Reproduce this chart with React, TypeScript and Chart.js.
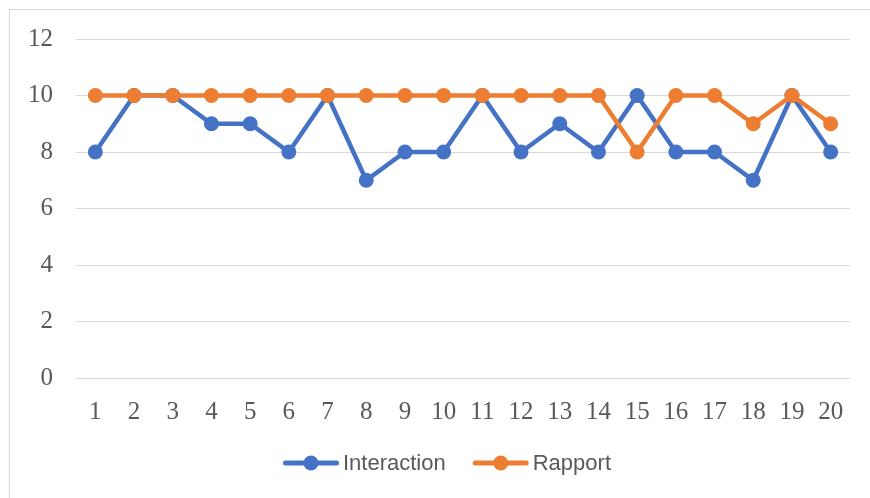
import { useEffect, useRef } from "react";
import { Chart, registerables } from "chart.js";

Chart.register(...registerables);

const categories = ["1", "2", "3", "4", "5", "6", "7", "8", "9", "10", "11", "12", "13", "14", "15", "16", "17", "18", "19", "20"];
const interaction = [8, 10, 10, 9, 9, 8, 10, 7, 8, 8, 10, 8, 9, 8, 10, 8, 8, 7, 10, 8];
const rapport = [10, 10, 10, 10, 10, 10, 10, 10, 10, 10, 10, 10, 10, 10, 8, 10, 10, 9, 10, 9];
const seriesNames = ["Interaction", "Rapport"];
const seriesColors = ["#4472C4", "#ED7D31"];
const yMin = 0;
const yMax = 12;
const yStep = 2;

const legendPlugin = {
  id: "lineLegend",
  afterDraw(chart: any) {
    const ctx = chart.ctx as CanvasRenderingContext2D;
    ctx.save();
    ctx.font = "22px 'Liberation Sans'";
    const items = chart.data.datasets.map((ds: any) => ({
      label: ds.label as string,
      color: ds.borderColor as string,
      w: ctx.measureText(ds.label).width,
    }));
    const markerW = 56;
    const textGap = 4;
    const itemGap = 27;
    const total =
      items.reduce((s: number, it: any) => s + markerW + textGap + it.w, 0) + itemGap * (items.length - 1);
    let x = chart.width / 2 + 7 - total / 2;
    const y = 453;
    for (const it of items) {
      ctx.strokeStyle = it.color;
      ctx.lineWidth = 5;
      ctx.lineCap = "round";
      ctx.beginPath();
      ctx.moveTo(x + 2.5, y);
      ctx.lineTo(x + markerW - 2.5, y);
      ctx.stroke();
      ctx.fillStyle = it.color;
      ctx.beginPath();
      ctx.arc(x + markerW / 2, y, 7.5, 0, Math.PI * 2);
      ctx.fill();
      ctx.fillStyle = "#595959";
      ctx.textBaseline = "middle";
      ctx.textAlign = "left";
      ctx.fillText(it.label, x + markerW + textGap, y + 1);
      x += markerW + textGap + it.w + itemGap;
    }
    ctx.restore();
  },
};

export default function App() {
  const ref = useRef<HTMLCanvasElement>(null);

  useEffect(() => {
    if (!ref.current) return;
    const tickFont = { family: "'Liberation Serif'", size: 25 };
    const chart = new Chart(ref.current, {
      type: "line",
      data: {
        labels: categories,
        datasets: [
          {
            label: seriesNames[0],
            data: interaction,
            borderColor: seriesColors[0],
            backgroundColor: seriesColors[0],
            borderWidth: 4.5,
            pointRadius: 7.5,
            pointBorderWidth: 0,
            pointBackgroundColor: seriesColors[0],
            tension: 0,
            order: 1,
          },
          {
            label: seriesNames[1],
            data: rapport,
            borderColor: seriesColors[1],
            backgroundColor: seriesColors[1],
            borderWidth: 4.5,
            pointRadius: 7.5,
            pointBorderWidth: 0,
            pointBackgroundColor: seriesColors[1],
            tension: 0,
            order: 0,
          },
        ],
      },
      options: {
        animation: false,
        responsive: false,
        maintainAspectRatio: false,
        layout: { padding: { left: 0, top: 29, right: 20, bottom: 0 } },
        plugins: {
          legend: { display: false },
          tooltip: { enabled: false },
        },
        scales: {
          x: {
            offset: true,
            grid: { display: false, drawTicks: false },
            border: { display: false },
            ticks: { font: tickFont, color: "#595959", padding: 19, maxRotation: 0, autoSkip: false },
            afterFit(scale: any) {
              scale.height = 120;
            },
          },
          y: {
            min: yMin,
            max: yMax,
            grid: { color: "#D9D9D9", lineWidth: 1, drawTicks: false },
            border: { display: false },
            ticks: { stepSize: yStep, font: tickFont, color: "#595959", padding: 23 },
            afterFit(scale: any) {
              scale.width = 66;
              scale.paddingTop = 0;
              scale.paddingBottom = 0;
            },
          },
        },
      },
      plugins: [legendPlugin],
    });
    return () => chart.destroy();
  }, []);

  return (
    <div
      style={{
        position: "absolute",
        left: 9,
        top: 9,
        width: 860,
        height: 488,
        borderTop: "1px solid #D9D9D9",
        borderLeft: "1px solid #D9D9D9",
      }}
    >
      <canvas ref={ref} width={860} height={488} style={{ display: "block", width: 860, height: 488 }} />
    </div>
  );
}
